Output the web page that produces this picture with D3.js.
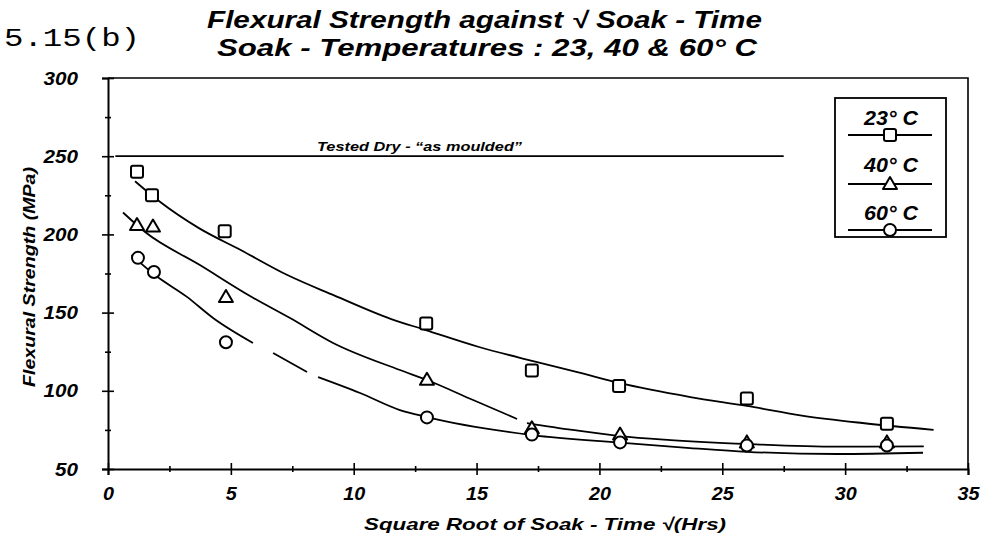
<!DOCTYPE html>
<html><head><meta charset="utf-8">
<script src="https://cdn.jsdelivr.net/npm/d3@7"></script>
<style>body{margin:0;background:#fff}svg{display:block}</style>
</head><body>
<svg id="c" width="1000" height="540"></svg>
<script>
// ---- data ----
const figureLabel = "5.15(b)";
const titleLines = ["Flexural Strength against \u221A Soak - Time", "Soak - Temperatures : 23, 40 & 60\u00B0 C"];
const xTitle = "Square Root of Soak - Time  \u221A(Hrs)";
const yTitle = "Flexural Strength (MPa)";
const dryLabel = "Tested Dry - \u201Cas moulded\u201D";
const seriesNames = ["23\u00B0 C", "40\u00B0 C", "60\u00B0 C"];

const xTickValues = [0, 5, 10, 15, 20, 25, 30, 35];
const xMinorTicks = [2.5, 7.5, 12.5, 17.5, 22.5, 27.5, 32.5];
const yTickValues = [50, 100, 150, 200, 250, 300];
const yMinorTicks = [75, 125, 175, 225, 275];

const sqrtTime23 = [1.18, 1.79, 4.75, 12.95, 17.25, 20.8, 26.0, 31.7];
const strength23 = [240, 225, 202, 143, 113, 103, 95, 79];
const sqrtTime40 = [1.18, 1.83, 4.8, 12.98, 17.25, 20.84, 26.0, 31.7];
const strength40 = [206, 205, 160, 107, 76, 72, 67, 67];
const sqrtTime60 = [1.22, 1.87, 4.8, 12.98, 17.25, 20.84, 26.0, 31.7];
const strength60 = [185, 176, 131, 83, 72, 67, 65, 65];

// fitted curves (null = gap in the printed line)
const fit23X = [1.1, 2.1, 3.7, 5.4, 7.3, 9.2, 11.5, 12.9, 15.1, 17.3, 19.1, 20.8, 23.7, 26.0, 28.3, 30.7, 33.6];
const fit23Y = [234, 221, 204, 190, 174, 161, 146, 139, 128, 119, 112, 105, 96, 90.3, 84, 79.4, 75];
const fit40X = [0.61, 1.51, 3.74, 5.78, 7.41, 9.16, 11.88, 12.98, 14.86, 16.65, null, 17.05, 18.9, 20.84, 22.9, 26.0, 29.7, 33.2];
const fit40Y = [214, 201.5, 180.4, 160.6, 146.5, 130.6, 113.3, 106.9, 94.1, 82, null, 79.4, 75, 71, 68.5, 66, 64.3, 64.5];
const fit60X = [0.96, 1.91, 3.2, 4.29, 5.9, null, 6.72, 8.1, null, 8.55, 10.26, 11.88, 12.98, 17.26, 20.84, 23.69, 26.0, 29.67, 33.17];
const fit60Y = [186.8, 174, 160.2, 146.4, 130.6, null, 124.2, 112, null, 108.8, 98.6, 87.7, 83.2, 71.7, 66.8, 63.4, 61, 59.6, 60.4];

const dryX = [0.3, 27.5];
const dryValue = 250;

// ---- chart ----
const FONT = "'Liberation Sans', Arial, Helvetica, sans-serif";
const svg = d3.select("#c");
const x = d3.scaleLinear().domain([0, 35]).range([108, 968]);
const y = d3.scaleLinear().domain([50, 300]).range([469, 78]);

// frame (top & right)
svg.append("path")
  .attr("d", `M${x(0)},${y(300)}H${x(35)}V${y(50)}`)
  .attr("fill", "none").attr("stroke", "#000").attr("stroke-width", 1.6);

function styleTickText(sel, perDigit) {
  sel.attr("font-family", FONT).attr("font-size", 19)
    .attr("font-weight", "bold").attr("font-style", "italic").attr("fill", "#000")
    .attr("textLength", function () { return this.textContent.length * perDigit; })
    .attr("lengthAdjust", "spacingAndGlyphs");
}

// x axis
const gx = svg.append("g").attr("transform", `translate(0,${y(50)})`)
  .call(d3.axisBottom(x).tickValues(xTickValues).tickSize(6).tickPadding(12).tickFormat(d3.format("d")));
gx.select(".domain").attr("stroke-width", 2);
gx.selectAll(".tick line").attr("y1", -6).attr("y2", 6).attr("stroke-width", 1.6);
styleTickText(gx.selectAll(".tick text"), 11);
const gxm = svg.append("g").attr("transform", `translate(0,${y(50)})`)
  .call(d3.axisBottom(x).tickValues(xMinorTicks).tickSize(3).tickFormat(""));
gxm.select(".domain").remove();
gxm.selectAll(".tick line").attr("y1", -3).attr("y2", 3).attr("stroke-width", 1.6);

// y axis
const gy = svg.append("g").attr("transform", `translate(${x(0)},0)`)
  .call(d3.axisLeft(y).tickValues(yTickValues).tickSize(6).tickPadding(24).tickFormat(d3.format("d")));
gy.select(".domain").attr("stroke-width", 2);
gy.selectAll(".tick line").attr("x1", -6).attr("x2", 6).attr("stroke-width", 1.6);
styleTickText(gy.selectAll(".tick text"), 11.5);
const gym = svg.append("g").attr("transform", `translate(${x(0)},0)`)
  .call(d3.axisLeft(y).tickValues(yMinorTicks).tickSize(3).tickFormat(""));
gym.select(".domain").remove();
gym.selectAll(".tick line").attr("x1", -3).attr("x2", 3).attr("stroke-width", 1.6);

// dry reference line
svg.append("line")
  .attr("x1", x(dryX[0])).attr("x2", x(dryX[1]))
  .attr("y1", y(dryValue)).attr("y2", y(dryValue))
  .attr("stroke", "#000").attr("stroke-width", 1.8);
svg.append("text").text(dryLabel)
  .attr("x", 317).attr("y", y(dryValue) - 5).attr("fill", "#000")
  .attr("font-family", FONT).attr("font-size", 13).attr("font-weight", "bold").attr("font-style", "italic")
  .attr("textLength", 205).attr("lengthAdjust", "spacingAndGlyphs");

// curves
const line = d3.line().defined(d => d[0] != null).x(d => x(d[0])).y(d => y(d[1])).curve(d3.curveMonotoneX);
[[fit23X, fit23Y], [fit40X, fit40Y], [fit60X, fit60Y]].forEach(([xs, ys]) => {
  svg.append("path").datum(xs.map((v, i) => [v, ys[i]]))
    .attr("d", line).attr("fill", "none").attr("stroke", "#000").attr("stroke-width", 1.8);
});

// markers
function marker(g, type, cx, cy) {
  if (type === 0) {
    g.append("rect").attr("x", cx - 6).attr("y", cy - 6).attr("width", 12).attr("height", 12).attr("rx", 2)
      .attr("fill", "#fff").attr("stroke", "#000").attr("stroke-width", 2);
  } else if (type === 1) {
    g.append("path").attr("d", `M${cx},${cy - 7}L${cx + 7},${cy + 5}L${cx - 7},${cy + 5}Z`)
      .attr("fill", "#fff").attr("stroke", "#000").attr("stroke-width", 2).attr("stroke-linejoin", "round");
  } else {
    g.append("circle").attr("cx", cx).attr("cy", cy).attr("r", 6)
      .attr("fill", "#fff").attr("stroke", "#000").attr("stroke-width", 2);
  }
}
const mg = svg.append("g");
[[sqrtTime23, strength23], [sqrtTime40, strength40], [sqrtTime60, strength60]].forEach(([xs, ys], k) => {
  xs.forEach((v, i) => marker(mg, k, x(v), y(ys[i])));
});

// legend
svg.append("rect").attr("x", 835).attr("y", 98).attr("width", 111).attr("height", 139)
  .attr("fill", "#fff").attr("stroke", "#000").attr("stroke-width", 1.8);
const legTextY = [125, 172, 220];
const legLineY = [135, 184, 230];
seriesNames.forEach((name, k) => {
  svg.append("text").text(name).attr("x", 891).attr("y", legTextY[k]).attr("text-anchor", "middle").attr("fill", "#000")
    .attr("font-family", FONT).attr("font-size", 20).attr("font-weight", "bold").attr("font-style", "italic")
    .attr("textLength", 54).attr("lengthAdjust", "spacingAndGlyphs");
  svg.append("line").attr("x1", 848).attr("x2", 932).attr("y1", legLineY[k]).attr("y2", legLineY[k])
    .attr("stroke", "#000").attr("stroke-width", 1.8);
  marker(svg, k, 890, legLineY[k]);
});

// titles
svg.append("text").text(figureLabel).attr("x", 4).attr("y", 46).attr("fill", "#000")
  .attr("font-family", "'Liberation Mono', 'Courier New', monospace").attr("font-size", 26)
  .attr("textLength", 136).attr("lengthAdjust", "spacingAndGlyphs");
svg.append("text").text(titleLines[0]).attr("x", 207).attr("y", 28).attr("fill", "#000")
  .attr("font-family", FONT).attr("font-size", 23).attr("font-weight", "bold").attr("font-style", "italic")
  .attr("textLength", 555).attr("lengthAdjust", "spacingAndGlyphs");
svg.append("text").text(titleLines[1]).attr("x", 217).attr("y", 56).attr("fill", "#000")
  .attr("font-family", FONT).attr("font-size", 23).attr("font-weight", "bold").attr("font-style", "italic")
  .attr("textLength", 540).attr("lengthAdjust", "spacingAndGlyphs");

svg.append("text").text(xTitle).attr("x", 364).attr("y", 530).attr("fill", "#000")
  .attr("font-family", FONT).attr("font-size", 17).attr("font-style", "italic").attr("font-weight", "bold")
  .attr("textLength", 362).attr("lengthAdjust", "spacingAndGlyphs");
svg.append("text").text(yTitle).attr("fill", "#000")
  .attr("transform", "translate(35,387) rotate(-90)")
  .attr("font-family", FONT).attr("font-size", 16).attr("font-style", "italic").attr("font-weight", "bold")
  .attr("textLength", 220).attr("lengthAdjust", "spacingAndGlyphs");
</script>
</body></html>
